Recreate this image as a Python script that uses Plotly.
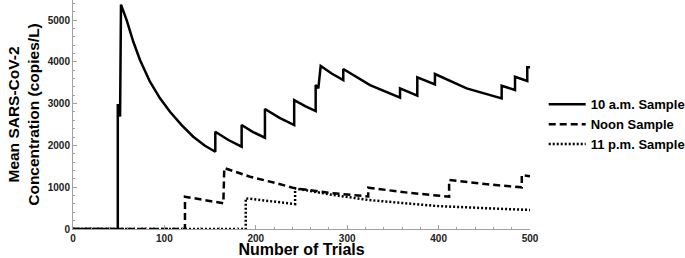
import plotly.graph_objects as go

# 10 a.m. sample
am_x = [0, 49, 49, 51.5, 52.5, 58.7, 66, 73.3, 84.2, 95.2, 106.1, 118.9, 131.6, 144.4, 155.7,
        155.7, 170, 184.5, 184.5, 197, 210, 210, 226, 242, 242, 254, 265.5, 265.5, 268.4, 271,
        283, 295.7, 295.7, 325, 357.8, 357.8, 376.7, 376.7, 396, 396, 430.7, 469, 469, 483.6,
        483.6, 497, 497, 500]
am_y = [0, 0, 2990, 2690, 5370, 5000, 4481, 4043, 3524, 3126, 2806, 2488, 2208, 1993, 1849,
        2328, 2130, 1969, 2488, 2320, 2185, 2871, 2660, 2488, 3086, 2940, 2823, 3445, 3366, 3900,
        3720, 3565, 3828, 3445, 3142, 3366, 3190, 3628, 3461, 3708, 3366, 3126, 3428, 3325,
        3644, 3541, 3868, 3868]

# Noon sample
noon_x = [0, 122.5, 122.5, 143, 164.5, 165.5, 193.7, 222.8, 243, 283, 323, 323, 366, 411.5,
          411.5, 451, 491, 491, 500]
noon_y = [0, 0, 773, 700, 615, 1460, 1251, 1093, 973, 860, 780, 988, 870, 773,
          1172, 1075, 997, 1292, 1265]

# 11 p.m. sample
pm_x = [0, 189, 189, 216, 243, 243, 283, 323, 360, 398, 450, 500]
pm_y = [0, 0, 734, 660, 598, 973, 820, 694, 615, 550, 500, 455]

x_ticks = [0, 100, 200, 300, 400, 500]
y_ticks = [0, 1000, 2000, 3000, 4000, 5000]

fig = go.Figure()
fig.add_trace(go.Scatter(x=am_x, y=am_y, mode="lines", name="10 a.m. Sample",
                         line=dict(color="black", width=2.5)))
fig.add_trace(go.Scatter(x=noon_x, y=noon_y, mode="lines", name="Noon Sample",
                         line=dict(color="black", width=2.5, dash="7px,4px")))
fig.add_trace(go.Scatter(x=pm_x, y=pm_y, mode="lines", name="11 p.m. Sample",
                         line=dict(color="black", width=2.5, dash="2px,2px")))

axis_common = dict(
    showgrid=False, zeroline=False, showline=True, linecolor="#a0a0a0", linewidth=1,
    ticks="inside", ticklen=4, tickcolor="#a0a0a0",
    tickfont=dict(family="Liberation Sans", size=10, color="#222", weight="bold"),
)

fig.update_xaxes(range=[0, 500], tickvals=x_ticks, **axis_common,
                 minor=dict(ticks="inside", dtick=20, ticklen=2, tickcolor="#a0a0a0"),
                 title=dict(text="Number of Trials", standoff=0,
                            font=dict(family="Liberation Sans", size=16, color="black", weight="bold")))
fig.update_yaxes(range=[0, 5480], tickvals=y_ticks, **axis_common,
                 minor=dict(ticks="inside", dtick=200, ticklen=2, tickcolor="#a0a0a0"),
                 title=dict(text="Mean SARS-CoV-2<br>Concentration (copies/L)", standoff=4,
                            font=dict(family="Liberation Sans", size=15.5, color="black", weight="bold")))

fig.update_layout(
    width=685, height=258,
    margin=dict(l=73, r=155, t=0, b=29, autoexpand=False),
    plot_bgcolor="white", paper_bgcolor="white",
    legend=dict(x=1.03, xanchor="left", y=0.61, yanchor="top", itemwidth=37,
                font=dict(family="Liberation Sans", size=13, color="black", weight="bold"),
                bgcolor="rgba(0,0,0,0)", tracegroupgap=0),
)

fig.write_html("out.html", config={"displayModeBar": False},
               post_script="document.body.style.margin='0';document.body.style.overflow='hidden';")
